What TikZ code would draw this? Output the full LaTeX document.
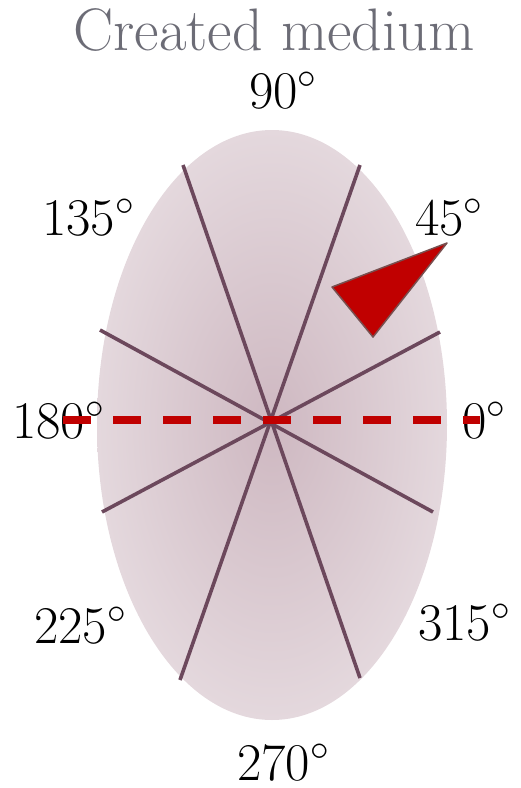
\RequirePackage{fix-cm}
\documentclass[tikz,border=0pt]{standalone}
\usetikzlibrary{calc}
\definecolor{titlegray}{RGB}{108,108,118}
\definecolor{spoke}{RGB}{108,72,92}
\definecolor{redd}{RGB}{192,0,0}
\definecolor{ellin}{RGB}{206,184,193}
\definecolor{ellout}{RGB}{228,216,221}
\definecolor{triedge}{RGB}{120,80,80}
\tikzset{
  anglabel/.style={inner sep=0pt, anchor=base west, font=\fontsize{53}{60}\selectfont},
  spokeline/.style={draw=spoke, line width=3.6pt},
  dashline/.style={draw=redd, line width=8pt, dash pattern=on 28pt off 22pt},
}
\begin{document}
\begin{tikzpicture}[x=1pt,y=-1pt]
\useasboundingbox (0,0) rectangle (520,788);
% ellipse
\shade[inner color=ellin, outer color=ellout] (272,425) ellipse [x radius=175, y radius=295];
% spoke endpoints
\coordinate (c) at (270,420);
\coordinate (a1) at (183,165);
\coordinate (a2) at (360,678);
\coordinate (b1) at (360,165);
\coordinate (b2) at (180,680);
\coordinate (d1) at (100,330);
\coordinate (d2) at (433,512);
\coordinate (e1) at (440,332);
\coordinate (e2) at (102,512);
\draw[spokeline] (a1) -- (a2);
\draw[spokeline] (b1) -- (b2);
\draw[spokeline] (d1) -- (d2);
\draw[spokeline] (e1) -- (e2);
% title
\node[inner sep=0pt, text=titlegray, font=\fontsize{60}{66}\selectfont] (title) at (274,30) {Created medium};
% labels
\node[anglabel] (l90) at (249,108) {$90^\circ$};
\node[anglabel] (l135) at (42,235) {$135^\circ$};
\node[anglabel] (l45) at (415,235) {$45^\circ$};
\node[anglabel] (l180) at (12,438) {$180^\circ$};
\node[anglabel] (l0) at (462,438) {$0^\circ$};
\node[anglabel] (l225) at (34,643) {$225^\circ$};
\node[anglabel] (l315) at (418,640) {$315^\circ$};
\node[anglabel] (l270) at (237,780) {$270^\circ$};
% dashed line
\coordinate (dl) at (63,420);
\coordinate (dr) at (480,420);
\draw[dashline] (dl) -- (dr);
% triangle
\coordinate (t1) at (332,287);
\coordinate (t2) at (447,243);
\coordinate (t3) at (373,337);
\draw[fill=redd, draw=triedge, line width=1.5pt, line join=round] (t1) -- (t2) -- (t3) -- cycle;
\end{tikzpicture}
\end{document}
